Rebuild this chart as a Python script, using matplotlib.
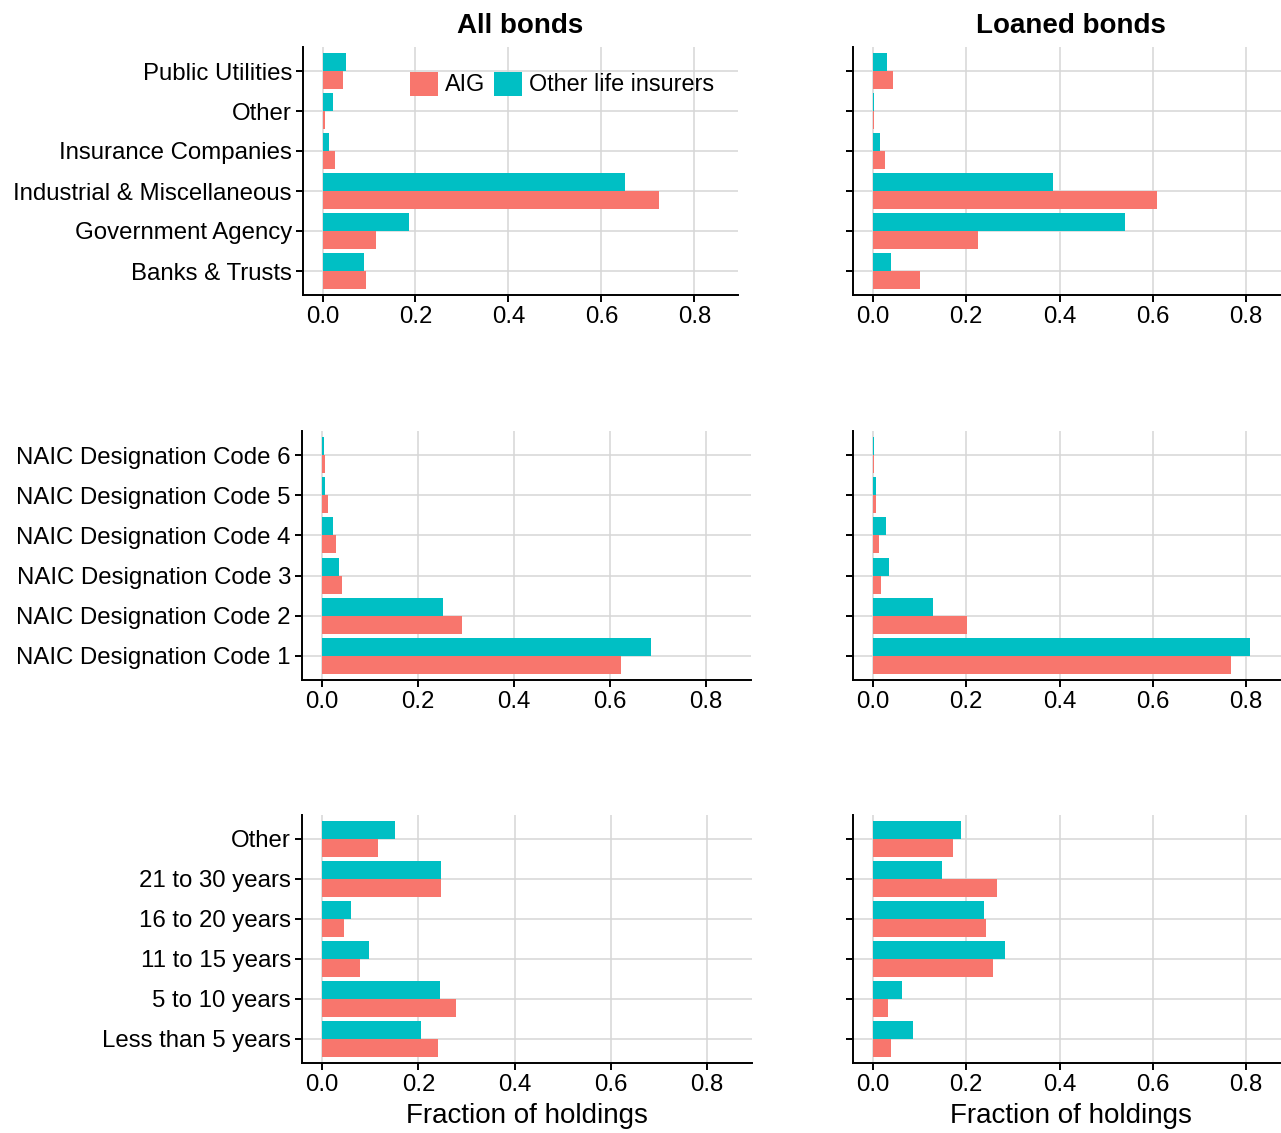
import numpy as np
import matplotlib
matplotlib.use("Agg")
import matplotlib.pyplot as plt

plt.rcParams['font.family'] = ['Liberation Sans', 'DejaVu Sans']

AIG_COLOR = '#F8766D'
OTHER_COLOR = '#00BFC4'

# categories listed top to bottom as shown
sector_labels = ['Public Utilities', 'Other', 'Insurance Companies',
                 'Industrial & Miscellaneous', 'Government Agency', 'Banks & Trusts']
sector_all_aig = [0.044, 0.005, 0.027, 0.725, 0.115, 0.093]
sector_all_other = [0.050, 0.022, 0.014, 0.650, 0.186, 0.089]
sector_loan_aig = [0.043, 0.0015, 0.026, 0.609, 0.226, 0.101]
sector_loan_other = [0.030, 0.0015, 0.015, 0.385, 0.540, 0.039]

naic_labels = ['NAIC Designation Code 6', 'NAIC Designation Code 5', 'NAIC Designation Code 4',
               'NAIC Designation Code 3', 'NAIC Designation Code 2', 'NAIC Designation Code 1']
naic_all_aig = [0.006, 0.012, 0.029, 0.041, 0.292, 0.623]
naic_all_other = [0.004, 0.006, 0.023, 0.035, 0.252, 0.685]
naic_loan_aig = [0.0015, 0.006, 0.013, 0.017, 0.202, 0.768]
naic_loan_other = [0.002, 0.006, 0.028, 0.034, 0.129, 0.809]

mat_labels = ['Other', '21 to 30 years', '16 to 20 years', '11 to 15 years',
              '5 to 10 years', 'Less than 5 years']
mat_all_aig = [0.117, 0.247, 0.046, 0.079, 0.278, 0.241]
mat_all_other = [0.152, 0.247, 0.059, 0.098, 0.245, 0.206]
mat_loan_aig = [0.172, 0.265, 0.243, 0.258, 0.032, 0.039]
mat_loan_other = [0.189, 0.148, 0.237, 0.284, 0.062, 0.086]

x_ticks = [0.0, 0.2, 0.4, 0.6, 0.8]

W, H = 1281, 1133
fig = plt.figure(figsize=(W / 100, H / 100), dpi=100)


def px_axes(left, right, top, bottom):
    return fig.add_axes([left / W, 1 - bottom / H, (right - left) / W, (bottom - top) / H])


def draw_panel(ax, labels, aig, other, show_labels, xlim):
    n = len(labels)
    ypos = np.arange(n, 0, -1)
    ax.barh(ypos - 0.225, aig, height=0.45, color=AIG_COLOR, label='AIG', zorder=3)
    ax.barh(ypos + 0.225, other, height=0.45, color=OTHER_COLOR,
            label='Other life insurers', zorder=3)
    ax.set_ylim(0.4, n + 0.6)
    ax.set_xlim(*xlim)
    ax.set_xticks(x_ticks)
    ax.set_xticklabels(['%.1f' % t for t in x_ticks])
    ax.set_yticks(ypos)
    if show_labels:
        ax.set_yticklabels(labels)
    else:
        ax.set_yticklabels([])
    ax.grid(True, color='#D6D6D6', linewidth=1.1, zorder=0)
    ax.set_axisbelow(True)
    for s in ['top', 'right']:
        ax.spines[s].set_visible(False)
    for s in ['left', 'bottom']:
        ax.spines[s].set_linewidth(1.4)
    ax.tick_params(axis='both', length=5, width=1.4, labelsize=17.3, pad=3,
                   colors='black')


tops = [47, 431, 815]
bottoms = [295, 680, 1063]
left_rights = [738, 751, 752]
left_lefts = [303, 302, 302]
panels = [
    (sector_labels, sector_all_aig, sector_all_other, sector_loan_aig, sector_loan_other),
    (naic_labels, naic_all_aig, naic_all_other, naic_loan_aig, naic_loan_other),
    (mat_labels, mat_all_aig, mat_all_other, mat_loan_aig, mat_loan_other),
]

axes_left = []
axes_right = []
for i, (labels, a_aig, a_oth, l_aig, l_oth) in enumerate(panels):
    axl = px_axes(left_lefts[i], left_rights[i], tops[i], bottoms[i])
    draw_panel(axl, labels, a_aig, a_oth, True, (-0.042, 0.894))
    axr = px_axes(853, 1281, tops[i], bottoms[i])
    draw_panel(axr, labels, l_aig, l_oth, False, (-0.043, 0.875))
    axes_left.append(axl)
    axes_right.append(axr)

axes_left[0].set_title('All bonds', fontsize=20, fontweight='bold', pad=10)
axes_right[0].set_title('Loaned bonds', fontsize=20, fontweight='bold', pad=10)
axes_right[0].title.set_x(0.51)
axes_left[2].set_xlabel('Fraction of holdings', fontsize=20)
axes_right[2].set_xlabel('Fraction of holdings', fontsize=20)
axes_right[2].xaxis.set_label_coords(0.51, -0.16)
axes_left[2].xaxis.set_label_coords(0.5, -0.16)

axes_left[0].legend(loc='center', bbox_to_anchor=(562 / W, 1 - 84 / H),
                    bbox_transform=fig.transFigure, ncol=2, frameon=False,
                    fontsize=16.8, handlelength=1.2, handleheight=1.2,
                    handletextpad=0.3, columnspacing=0.35, borderpad=0)

fig.savefig('out.png', dpi=100)
